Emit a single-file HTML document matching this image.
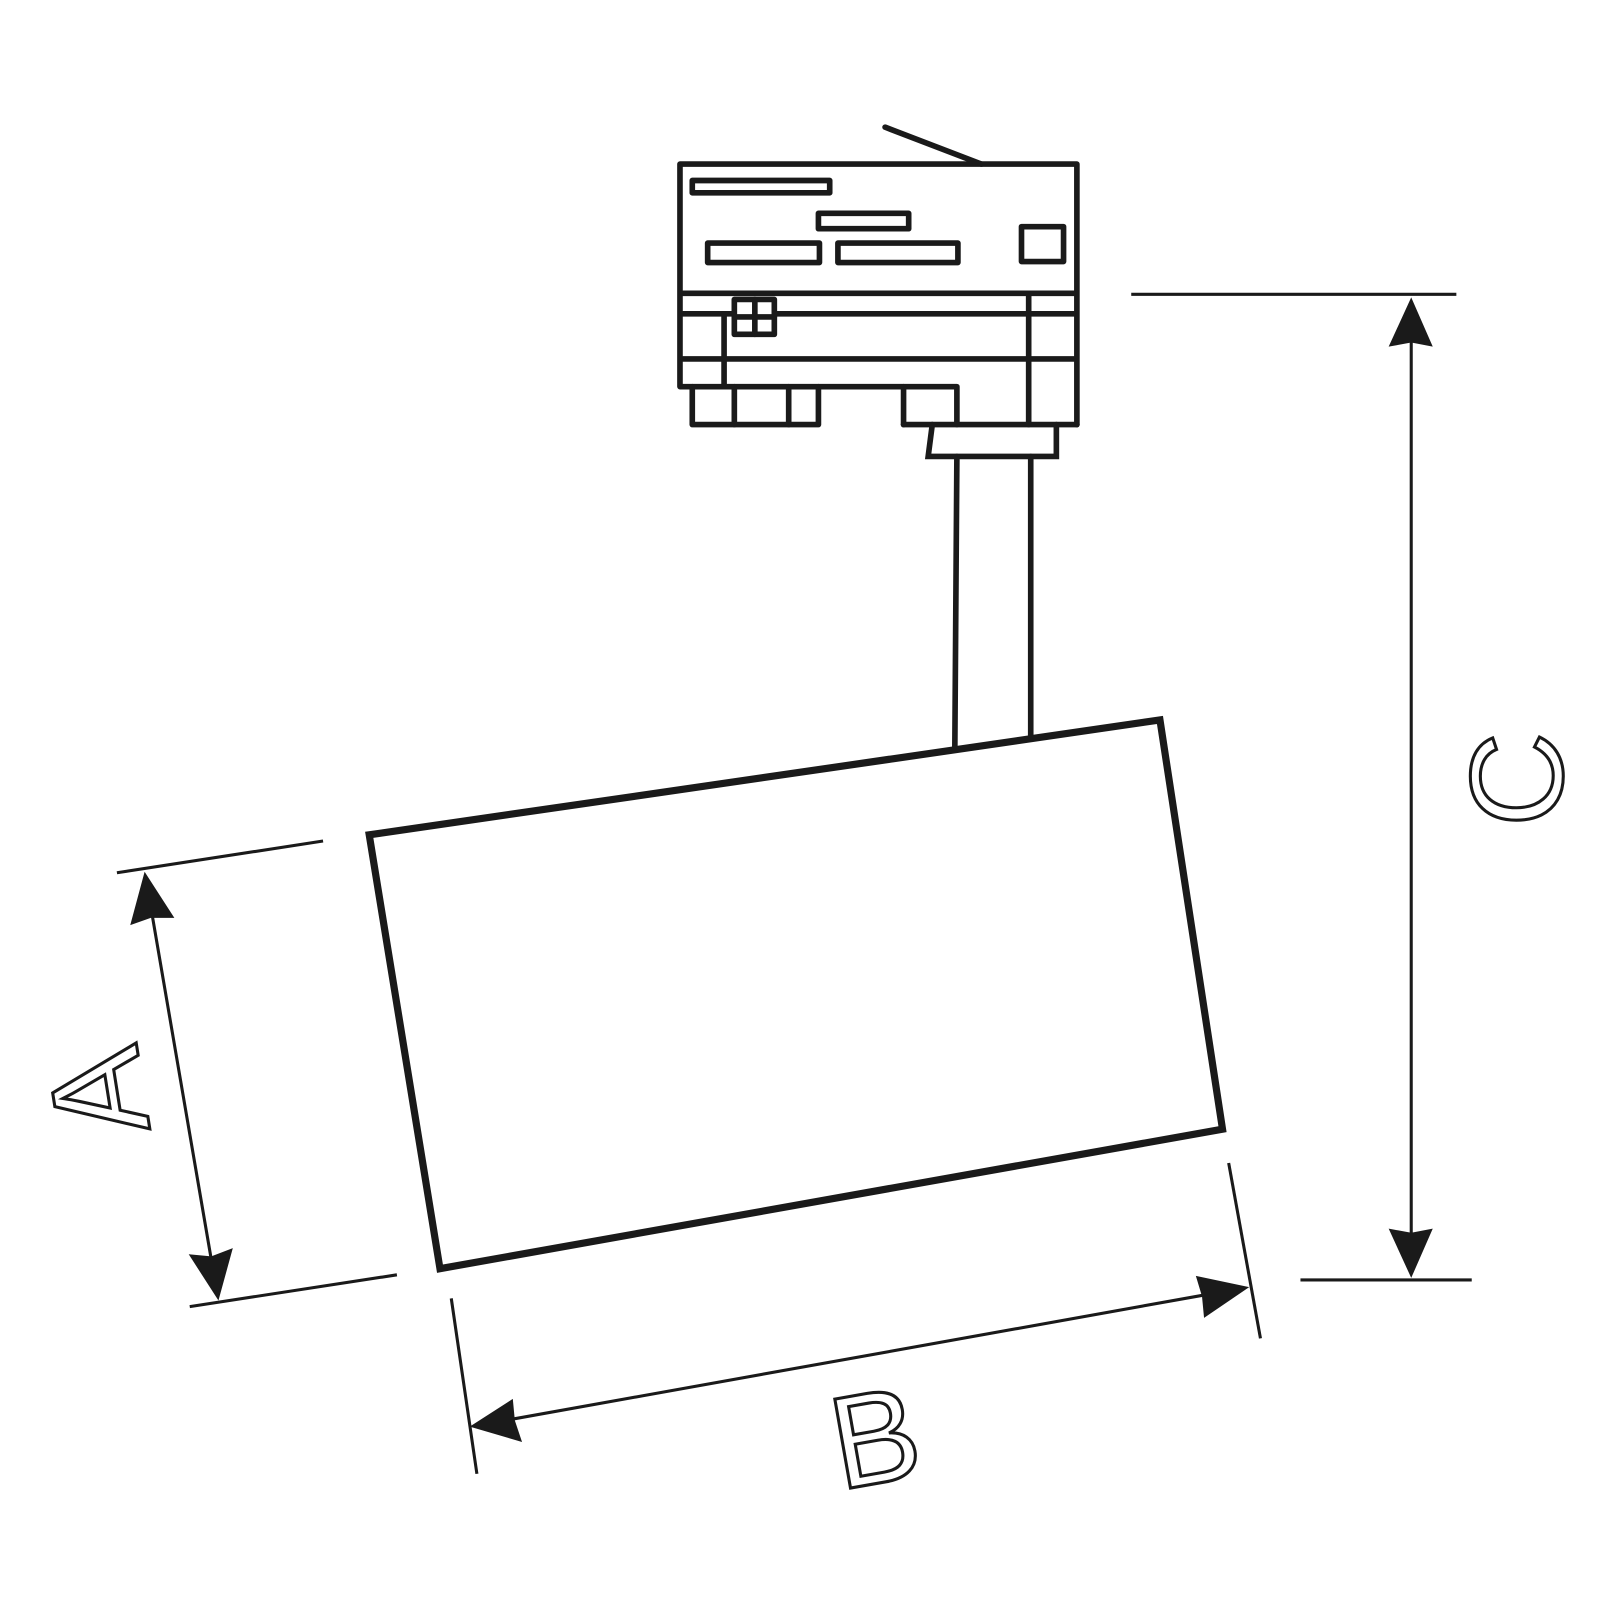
<!DOCTYPE html>
<html><head><style>html,body{margin:0;padding:0;background:#fff}</style></head>
<body>
<svg width="1600" height="1600" viewBox="0 0 1600 1600" xmlns="http://www.w3.org/2000/svg">
<g transform="scale(1.0256)">
<g fill="none" stroke="#1a1a1a" stroke-linejoin="round" stroke-linecap="round">
<g stroke-width="5.5">
<line x1="863" y1="124" x2="957" y2="160"/>
<polyline points="1050,414 1050,160 663,160 663,377 933,377 933,414"/>
<polyline points="881,414 881,377"/>
<polyline points="881,414 1050,414"/>
<rect x="675" y="176" width="134" height="12"/>
<rect x="798" y="208" width="88" height="15"/>
<rect x="690" y="237" width="109" height="19"/>
<rect x="817" y="237" width="117" height="19"/>
<rect x="996" y="221" width="41" height="34"/>
<line x1="666" y1="286" x2="1047" y2="286"/>
<line x1="666" y1="306" x2="1047" y2="306"/>
<line x1="666" y1="350" x2="1047" y2="350"/>
<line x1="1003" y1="286" x2="1003" y2="414"/>
<line x1="706" y1="306" x2="706" y2="377"/>
<rect x="716" y="292" width="39" height="34" fill="#fff"/>
<line x1="736" y1="292" x2="736" y2="326"/>
<line x1="716" y1="309" x2="755" y2="309"/>
<polyline points="675,377 675,414 798,414 798,377"/>
<line x1="716" y1="377" x2="716" y2="414"/>
<line x1="769" y1="377" x2="769" y2="414"/>
<polyline points="909,414 905,445 1030,445 1030,414" stroke-linejoin="miter"/>
<line x1="933" y1="445" x2="931" y2="729"/>
<line x1="1005" y1="445" x2="1005" y2="718"/>
</g>
<polygon points="360,814 1131,702 1192,1101 429,1237" stroke-width="7" stroke-linejoin="miter"/>
<g stroke-width="3" stroke-linecap="butt">
<line x1="1103" y1="287" x2="1420" y2="287"/>
<line x1="1268" y1="1248" x2="1435" y2="1248"/>
<line x1="1376" y1="330" x2="1376" y2="1205"/>
<line x1="114" y1="851" x2="315" y2="820"/>
<line x1="185" y1="1274" x2="387" y2="1243"/>
<line x1="148" y1="890" x2="206" y2="1228"/>
<line x1="440" y1="1266" x2="465" y2="1437"/>
<line x1="1198" y1="1134" x2="1229" y2="1305"/>
<line x1="498" y1="1384" x2="1178" y2="1262"/>
</g>
</g>
<g fill="#1a1a1a">
<polygon points="1376,290 1354,338 1376,334 1397,338"/>
<polygon points="1376,1246 1354,1198 1376,1202 1397,1198"/>
<polygon points="141,850 127,902 147,895 170,895"/>
<polygon points="213,1268 184,1223 206,1225 227,1217"/>
<polygon points="458,1391 500,1364 502,1385 509,1406"/>
<polygon points="1218,1255 1166,1244 1172,1264 1174,1285"/>
</g>
<g font-family="'Liberation Sans', sans-serif" font-size="128" fill="none" stroke="#1a1a1a" stroke-width="3" text-anchor="middle">
<text x="0" y="0" transform="translate(94,1066) rotate(-99)" dy="46">A</text>
<text x="0" y="0" transform="translate(853,1400) rotate(-10)" dy="46">B</text>
<text x="0" y="0" transform="translate(1477,760) rotate(-90)" dy="46">C</text>
</g>
</g>
</svg>
</body></html>
